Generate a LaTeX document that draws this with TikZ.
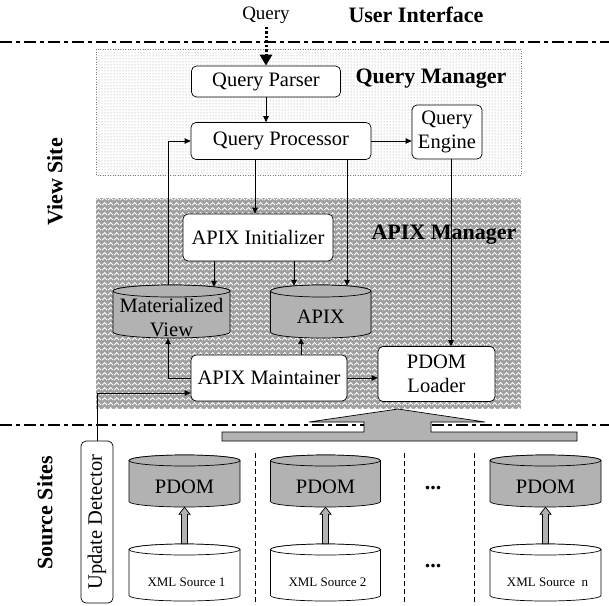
\documentclass[tikz,border=0pt]{standalone}
\usepackage{fontspec}
\setmainfont{Liberation Serif}
\usetikzlibrary{arrows.meta,calc,patterns}
\pgfdeclarepatternformonly{zigzag}{\pgfqpoint{0pt}{0pt}}{\pgfqpoint{6pt}{5pt}}{\pgfqpoint{6pt}{5pt}}{%
  \pgfsetlinewidth{1.1pt}%
  \pgfpathmoveto{\pgfqpoint{0pt}{1pt}}%
  \pgfpathlineto{\pgfqpoint{3pt}{4pt}}%
  \pgfpathlineto{\pgfqpoint{6pt}{1pt}}%
  \pgfusepathqstroke}
\newcommand\mycyl[7]{%
  \pgfmathsetmacro\cylcx{(#2+#3)/2}%
  \pgfmathsetmacro\cylrx{(#3-#2)/2}%
  \pgfmathsetmacro\cylyt{#4+#6}%
  \pgfmathsetmacro\cylyb{#5-#6}%
  \pgfmathsetmacro\cylcy{(#4+#5)/2}%
  \pgfmathsetmacro\cylw{#3-#2}%
  \pgfmathsetmacro\cylh{#5-#4}%
  \node[inner sep=0pt, minimum width=\cylw pt, minimum height=\cylh pt] (#1) at (\cylcx,\cylcy) {};
  \filldraw[cylline, fill=#7] (#2,\cylyt) -- (#2,\cylyb)
     arc[start angle=180, end angle=0, x radius=\cylrx, y radius=#6]
     -- (#3,\cylyt)
     arc[start angle=0, end angle=-180, x radius=\cylrx, y radius=#6] -- cycle;
  \filldraw[cylline, fill=#7] (\cylcx,\cylyt) ellipse[x radius=\cylrx, y radius=#6];
}
\newcommand\fatarrow[2]{%
  \path (#1.north) coordinate (fa1) (#2.south) coordinate (fa2);
  \filldraw[cylline, fill=dbgray] ($(fa1)+(-3,0)$) -- ($(fa2 -| fa1)+(-3,7)$) -- ($(fa2 -| fa1)+(-5.5,7)$)
     -- (fa2 -| fa1) -- ($(fa2 -| fa1)+(5.5,7)$) -- ($(fa2 -| fa1)+(3,7)$) -- ($(fa1)+(3,0)$) -- cycle;
}
\definecolor{dbgray}{HTML}{B2B2B2}
\tikzset{
  box/.style={draw, line width=0.7pt, rounded corners=5pt, fill=white, align=center, inner sep=0pt,
              font=\fontsize{20.5}{24}\selectfont},
  cylline/.style={line width=0.7pt},
  arr/.style={line width=0.7pt, -{Triangle[length=6pt,width=5.5pt]}},
  sep/.style={line width=2pt, dash pattern=on 12pt off 4pt on 4pt off 4pt},
  bigtitle/.style={font=\fontsize{22}{26}\selectfont\bfseries},
  vsep/.style={line width=0.6pt, dash pattern=on 5pt off 3pt},
}
\begin{document}
\begin{tikzpicture}[x=1pt,y=-1pt]
\useasboundingbox (0,0) rectangle (609,605);
% regions
\fill[white] (96,49) rectangle (521,175);
\fill[pattern=dots, pattern color=gray!80] (96,49) rectangle (521,175);
\draw[gray, line width=0.5pt, dotted] (96,49) rectangle (521,175);
\fill[gray!75] (96,198) rectangle (521,409);
\fill[pattern=zigzag, pattern color=white] (96,198) rectangle (521,409);
% separators
\draw[sep] (0,42) -- (609,42);
\draw[sep] (0,425) -- (609,425);
% titles
\node[font=\fontsize{19}{22}\selectfont] (qtext) at (266,15) {Query};
\node[bigtitle] (ui) at (416,15) {User Interface};
\node[bigtitle] (qm) at (431,79) {Query Manager};
\node[bigtitle] (am) at (444,235) {APIX Manager};
\node[bigtitle, rotate=90] (vs) at (55,182) {View Site};
\node[bigtitle, rotate=90] (ss) at (45,513) {Source Sites};
% boxes
\node[box, minimum width=149pt, minimum height=31pt] (qp) at (266,81.5) {Query Parser};
\node[box, minimum width=180pt, minimum height=37pt] (proc) at (281,141) {Query Processor};
\node[box, minimum width=70pt, minimum height=54pt] (eng) at (447,132) {Query\\Engine};
\node[box, minimum width=150pt, minimum height=47pt] (init) at (258,237.5) {APIX Initializer};
\node[box, minimum width=156pt, minimum height=46pt] (maint) at (269,378) {APIX Maintainer};
\node[box, minimum width=117pt, minimum height=55pt] (loader) at (436.5,374) {PDOM\\Loader};
\node[box, rotate=90, minimum width=162pt, minimum height=32pt] (upd) at (97,522) {Update Detector};
% helper x/y positions
\coordinate (x168) at (168,0);
\coordinate (x214) at (214,0);
\coordinate (x255) at (255,0);
\coordinate (x294) at (294,0);
\coordinate (x301) at (301,0);
\coordinate (x347) at (347,0);
\coordinate (x451) at (451,0);
\coordinate (y393) at (0,393);
% cylinder frames
\path (171.5,311.5) node[inner sep=0pt, minimum width=117pt, minimum height=53pt] (mvf) {};
\path (320.75,311.5) node[inner sep=0pt, minimum width=100.5pt, minimum height=53pt] (apf) {};
% connectors
\draw[line width=3pt, dash pattern=on 2.5pt off 2pt, -{Triangle[length=11pt,width=12pt]}] (qtext.south) -- (qp.north);
\draw[arr] (qp.south) -- (qp.south |- proc.north);
\draw[arr] (proc.east) -- (proc.east -| eng.west);
\draw[arr] (mvf.north -| x168) |- (proc.west);
\draw[arr] (proc.south -| x255) -- (init.north -| x255);
\draw[arr] (proc.south -| x347) -- ([yshift=-1pt]apf.north -| x347);
\draw[arr] (init.south -| x214) -- ([yshift=-2pt]mvf.north -| x214);
\draw[arr] (init.south -| x294) -- ([yshift=-1pt]apf.north -| x294);
\draw[arr] (eng.south -| x451) -- (loader.north -| x451);
\draw[arr] (maint.west) -| (mvf.south -| x168);
\draw[arr] (maint.north -| x301) -- (apf.south -| x301);
\draw[arr] (maint.east) -- (maint.east -| loader.west);
\draw[arr] (upd.east) |- (y393 -| maint.west);
% cylinders
\mycyl{mv}{113}{230}{285}{338}{6}{dbgray}
\mycyl{apix}{270.5}{371}{285}{338}{6}{dbgray}
\node[font=\fontsize{20.5}{24}\selectfont, align=center] (mvt) at ($(mv)+(0,6)$) {Materialized\\View};
\node[font=\fontsize{20.5}{24}\selectfont] (apt) at ($(apix)+(0,5)$) {APIX};
% big arrow from sources to loader
\filldraw[line width=0.7pt, fill=dbgray] (309,422) -- (398,409) -- (485,422) -- (431,422) -- (431,432)
   -- (577,432) -- (577,441) -- (222,441) -- (222,432) -- (364,432) -- (364,422) -- cycle;
% source sites
\draw[vsep] (255,453) -- (255,605);
\draw[vsep] (404,453) -- (404,605);
\draw[vsep] (474,453) -- (474,605);
\mycyl{pdom1}{129}{240}{455}{507}{5.5}{dbgray}
\mycyl{pdom2}{270.5}{380.5}{455}{507}{5.5}{dbgray}
\mycyl{pdomn}{490}{601}{455}{507}{5.5}{dbgray}
\mycyl{xml1}{129}{240}{544}{601}{5.5}{white}
\mycyl{xml2}{270.5}{380.5}{544}{601}{5.5}{white}
\mycyl{xmln}{490}{601}{544}{601}{5.5}{white}
\foreach \n in {1,2,n}{
  \node[font=\fontsize{20.5}{24}\selectfont] (pdt\n) at ($(pdom\n)+(0,6)$) {PDOM};
  \fatarrow{xml\n}{pdom\n}
}
\node[font=\fontsize{13}{15}\selectfont] (xt1) at ($(xml1)+(2,10)$) {XML Source 1};
\node[font=\fontsize{13}{15}\selectfont] (xt2) at ($(xml2)+(2,10)$) {XML Source 2};
\node[font=\fontsize{13}{15}\selectfont] (xtn) at ($(xmln)+(2,10)$) {XML Source~~n};
\node[font=\fontsize{22}{24}\selectfont\bfseries] (dots1) at (433,488) {...};
\node[font=\fontsize{22}{24}\selectfont\bfseries] (dots2) at (433,566) {...};
\end{tikzpicture}
\end{document}
